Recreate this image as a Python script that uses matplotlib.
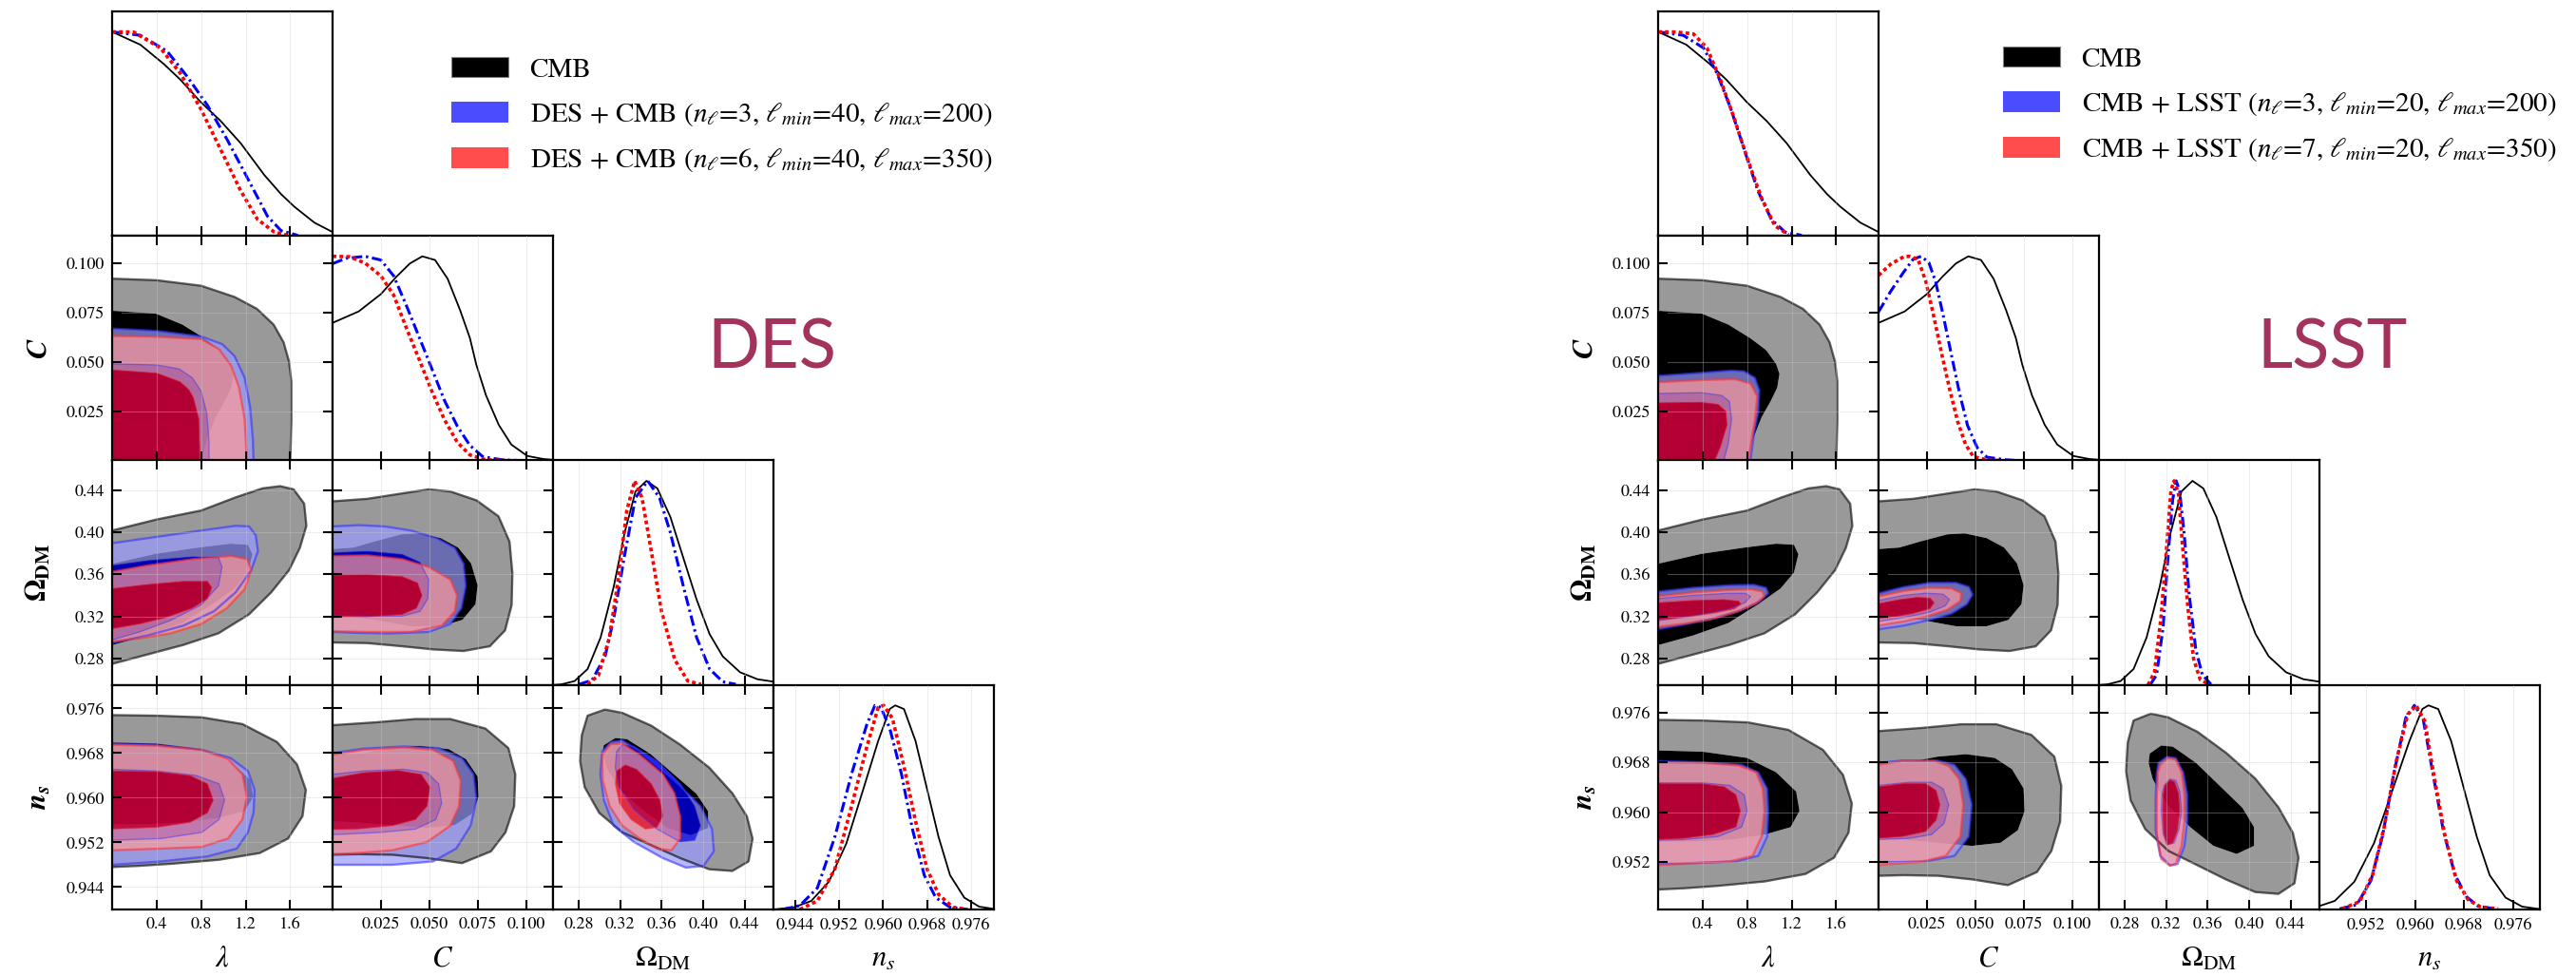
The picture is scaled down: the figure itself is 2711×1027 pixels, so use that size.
import numpy as np
import matplotlib.pyplot as plt
from matplotlib.path import Path
from matplotlib.patches import PathPatch, Polygon, Patch

plt.rcParams['font.family'] = ['STIXGeneral', 'DejaVu Sans']
plt.rcParams['mathtext.fontset'] = 'stix'

# ---------------- axis ranges / ticks ----------------
LAM_LIM = (0.0, 1.98)
C_LIM = (0.0, 0.114)
OM_LIM = (0.255, 0.468)
NS_LIM_DES = (0.9400, 0.9802)
NS_LIM_LSST = (0.9444, 0.9804)

LAM_TICKS = [0.4, 0.8, 1.2, 1.6]
LAM_LABELS = ['0.4', '0.8', '1.2', '1.6']
C_TICKS = [0.025, 0.050, 0.075, 0.100]
C_LABELS = ['0.025', '0.050', '0.075', '0.100']
OM_TICKS = [0.28, 0.32, 0.36, 0.40, 0.44]
OM_LABELS = ['0.28', '0.32', '0.36', '0.40', '0.44']
NS_TICKS_DES = [0.944, 0.952, 0.960, 0.968, 0.976]
NS_LABELS_DES = ['0.944', '0.952', '0.960', '0.968', '0.976']
NS_TICKS_LSST = [0.952, 0.960, 0.968, 0.976]
NS_LABELS_LSST = ['0.952', '0.960', '0.968', '0.976']

# ---------------- 1D marginals ----------------
CMB_LAM_X = [0, 0.253, 0.463, 0.614, 0.794, 0.975, 1.155, 1.366, 1.517, 1.637, 1.817, 1.98]
CMB_LAM_P = [1.0, 0.937, 0.843, 0.765, 0.657, 0.563, 0.454, 0.299, 0.205, 0.143, 0.065, 0.019]
CMB_C_X = [0, 0.0135, 0.025, 0.033, 0.040, 0.0464, 0.053, 0.0595, 0.066, 0.071, 0.0743, 0.0793, 0.0859, 0.0924, 0.1007, 0.109, 0.114]
CMB_C_P = [0.674, 0.73, 0.815, 0.90, 0.965, 1.0, 0.982, 0.89, 0.735, 0.60, 0.47, 0.32, 0.175, 0.078, 0.022, 0.007, 0.003]
CMB_OM_X = [0.2556, 0.2632, 0.2758, 0.2884, 0.301, 0.3137, 0.3242, 0.3347, 0.3453, 0.3558, 0.3684, 0.381, 0.3937, 0.4063, 0.419, 0.4358, 0.4526, 0.468]
CMB_OM_P = [0.0, 0.003, 0.019, 0.078, 0.233, 0.482, 0.746, 0.948, 1.0, 0.963, 0.823, 0.621, 0.419, 0.249, 0.14, 0.062, 0.028, 0.016]
CMB_NS_X = [0.9401, 0.9438, 0.9469, 0.9501, 0.9533, 0.9564, 0.9591, 0.9612, 0.9622, 0.9638, 0.9659, 0.968, 0.9701, 0.9722, 0.9748, 0.9775, 0.9801]
CMB_NS_P = [0.0, 0.011, 0.042, 0.136, 0.324, 0.591, 0.826, 0.982, 1.0, 0.982, 0.826, 0.591, 0.356, 0.168, 0.058, 0.014, 0.003]

DESB_LAM_X = [0, 0.253, 0.494, 0.674, 0.855, 1.035, 1.216, 1.396, 1.517, 1.667]
DESB_LAM_P = [1.0, 0.983, 0.905, 0.781, 0.641, 0.47, 0.283, 0.096, 0.026, 0.003]
DESR_LAM_X = [0, 0.193, 0.433, 0.614, 0.794, 0.975, 1.155, 1.306, 1.456, 1.577]
DESR_LAM_P = [1.0, 0.999, 0.921, 0.796, 0.625, 0.423, 0.221, 0.081, 0.019, 0.003]
DESB_C_X = [0, 0.0069, 0.0168, 0.025, 0.0316, 0.038, 0.0447, 0.0513, 0.0579, 0.0645, 0.071, 0.0776, 0.0875, 0.096]
DESB_C_P = [0.964, 0.99, 1.0, 0.982, 0.904, 0.763, 0.606, 0.45, 0.293, 0.168, 0.074, 0.019, 0.003, 0.0]
DESR_C_X = [0, 0.0086, 0.0168, 0.025, 0.0316, 0.038, 0.0447, 0.0513, 0.0579, 0.0645, 0.071, 0.0793, 0.09]
DESR_C_P = [1.0, 0.998, 0.967, 0.904, 0.81, 0.653, 0.497, 0.34, 0.199, 0.089, 0.027, 0.003, 0.0]
DESB_OM_X = [0.28, 0.2926, 0.3053, 0.3137, 0.3242, 0.3347, 0.3465, 0.3579, 0.3684, 0.381, 0.3937, 0.4063, 0.419, 0.4316]
DESB_OM_P = [0.003, 0.023, 0.14, 0.326, 0.637, 0.917, 1.0, 0.917, 0.746, 0.482, 0.233, 0.078, 0.016, 0.003]
DESR_OM_X = [0.2884, 0.2989, 0.3095, 0.3179, 0.3263, 0.3339, 0.341, 0.3495, 0.36, 0.3726, 0.3853, 0.3979]
DESR_OM_P = [0.003, 0.047, 0.233, 0.513, 0.855, 1.0, 0.917, 0.668, 0.357, 0.124, 0.019, 0.003]
DESB_NS_X = [0.9417, 0.9448, 0.948, 0.9512, 0.9543, 0.957, 0.9585, 0.9596, 0.9612, 0.9633, 0.9654, 0.9675, 0.9696, 0.9722, 0.9754]
DESB_NS_P = [0.0, 0.019, 0.105, 0.356, 0.669, 0.904, 1.0, 0.99, 0.888, 0.669, 0.387, 0.168, 0.058, 0.011, 0.0]
DESR_NS_X = [0.9448, 0.948, 0.9512, 0.9543, 0.957, 0.9591, 0.9601, 0.9617, 0.9638, 0.9659, 0.968, 0.9701, 0.9727, 0.9754]
DESR_NS_P = [0.0, 0.042, 0.199, 0.512, 0.794, 0.99, 1.0, 0.936, 0.7, 0.434, 0.199, 0.074, 0.011, 0.0]

LSSTB_LAM_X = [0, 0.225, 0.408, 0.53, 0.652, 0.774, 0.896, 1.017, 1.14, 1.29]
LSSTB_LAM_P = [1.0, 0.983, 0.921, 0.796, 0.625, 0.423, 0.221, 0.081, 0.019, 0.003]
LSSTR_LAM_X = [0, 0.164, 0.317, 0.439, 0.56, 0.682, 0.804, 0.926, 1.048, 1.17]
LSSTR_LAM_P = [1.0, 0.999, 0.99, 0.921, 0.765, 0.579, 0.376, 0.19, 0.05, 0.006]
LSSTB_C_X = [0, 0.0063, 0.013, 0.0179, 0.022, 0.026, 0.0295, 0.0336, 0.0377, 0.0419, 0.046, 0.051, 0.056, 0.066, 0.071]
LSSTB_C_P = [0.728, 0.829, 0.923, 0.986, 1.0, 0.97, 0.876, 0.704, 0.516, 0.329, 0.172, 0.063, 0.016, 0.003, 0.0]
LSSTR_C_X = [0, 0.0063, 0.013, 0.016, 0.0204, 0.0245, 0.0286, 0.0328, 0.0369, 0.041, 0.045, 0.049, 0.056, 0.062]
LSSTR_C_P = [0.907, 0.962, 0.998, 1.0, 0.986, 0.876, 0.704, 0.516, 0.344, 0.188, 0.078, 0.019, 0.003, 0.0]
LSSTB_OM_X = [0.3044, 0.3107, 0.317, 0.3212, 0.3262, 0.3296, 0.3329, 0.3371, 0.3422, 0.3485, 0.3548, 0.3632]
LSSTB_OM_P = [0.0, 0.05, 0.284, 0.596, 0.908, 1.0, 0.95, 0.752, 0.44, 0.175, 0.05, 0.003]
LSSTR_OM_X = [0.3023, 0.3086, 0.3149, 0.3203, 0.3245, 0.3275, 0.3317, 0.3359, 0.3413, 0.3464, 0.3527, 0.3611]
LSSTR_OM_P = [0.0, 0.062, 0.33, 0.671, 0.952, 1.0, 0.94, 0.671, 0.36, 0.128, 0.027, 0.003]
LSSTB_NS_X = [0.9477, 0.9505, 0.9528, 0.9547, 0.9566, 0.9585, 0.9599, 0.9613, 0.9627, 0.9646, 0.9665, 0.9684, 0.9703, 0.9731]
LSSTB_NS_P = [0.003, 0.023, 0.141, 0.36, 0.673, 0.939, 1.0, 0.939, 0.704, 0.391, 0.172, 0.063, 0.016, 0.003]
LSSTR_NS_X = [0.9481, 0.951, 0.9531, 0.955, 0.9569, 0.9588, 0.9602, 0.9616, 0.963, 0.9649, 0.9668, 0.9687, 0.9707, 0.9736]
LSSTR_NS_P = [0.003, 0.039, 0.172, 0.407, 0.72, 0.955, 1.0, 0.923, 0.673, 0.36, 0.141, 0.047, 0.013, 0.003]

# ---------------- 2D contours (95% outer, 68% inner) ----------------
# CMB (same in both triangles)
CMB_LAM_C_95 = [(-0.1, 0.0925), (0, 0.0923), (0.4, 0.0915), (0.8, 0.0887), (1.1, 0.083), (1.3, 0.077), (1.45, 0.069),
                (1.54, 0.06), (1.59, 0.05), (1.61, 0.04), (1.61, 0.02), (1.60, 0.0), (1.60, -0.01), (-0.1, -0.01)]
CMB_LAM_C_68 = [(-0.1, 0.076), (0, 0.076), (0.39, 0.0746), (0.63, 0.069), (0.83, 0.062), (0.97, 0.056), (1.06, 0.049),
                (1.09, 0.044), (1.07, 0.037), (1.01, 0.03), (0.93, 0.022), (0.86, 0.012), (0.80, 0.0), (0.79, -0.01), (-0.1, -0.01)]
CMB_LAM_OM_95 = [(-0.1, 0.3985), (0, 0.4015), (0.4, 0.412), (0.8, 0.4205), (1.11, 0.433), (1.35, 0.4415), (1.51, 0.4436),
                 (1.63, 0.4406), (1.725, 0.427), (1.745, 0.406), (1.686, 0.385), (1.59, 0.364), (1.43, 0.343), (1.23, 0.322),
                 (0.955, 0.304), (0.64, 0.293), (0.32, 0.284), (0, 0.275), (-0.1, 0.272)]
CMB_LAM_OM_68 = [(-0.1, 0.367), (0, 0.37), (0.39, 0.3794), (0.78, 0.3854), (1.06, 0.389), (1.22, 0.388), (1.26, 0.379),
                 (1.22, 0.3615), (1.1, 0.3466), (0.9, 0.3316), (0.63, 0.3137), (0.31, 0.3018), (0, 0.2928), (-0.1, 0.29)]
CMB_C_OM_95 = [(-0.01, 0.429), (0, 0.4292), (0.018, 0.4316), (0.036, 0.4367), (0.0497, 0.4406), (0.061, 0.4385),
               (0.0745, 0.4301), (0.0858, 0.415), (0.0915, 0.391), (0.093, 0.3609), (0.0926, 0.3308), (0.0892, 0.3068),
               (0.0813, 0.2917), (0.0677, 0.2872), (0.052, 0.2887), (0.036, 0.2917), (0.018, 0.2947), (0, 0.2953), (-0.01, 0.2953)]
CMB_C_OM_68 = [(-0.01, 0.3835), (0, 0.3839), (0.0108, 0.3854), (0.022, 0.3913), (0.0356, 0.3979), (0.0446, 0.3988),
               (0.0559, 0.3943), (0.0649, 0.3854), (0.0716, 0.3704), (0.075, 0.3496), (0.0739, 0.3316), (0.0671, 0.3167),
               (0.0559, 0.3107), (0.0401, 0.3107), (0.022, 0.3167), (0.0086, 0.3197), (0, 0.3203), (-0.01, 0.3205)]
CMB_LAM_NS_95 = [(-0.1, 0.9748), (0, 0.9748), (0.4, 0.9747), (0.805, 0.9744), (1.17, 0.9732), (1.48, 0.970), (1.66, 0.966),
                 (1.74, 0.9614), (1.71, 0.9567), (1.58, 0.9527), (1.325, 0.9501), (0.96, 0.9489), (0.545, 0.9482),
                 (0.234, 0.9478), (0, 0.9476), (-0.1, 0.9476)]
CMB_LAM_NS_68 = [(-0.1, 0.9699), (0, 0.9699), (0.4, 0.9697), (0.8, 0.9687), (1.06, 0.9664), (1.24, 0.9633), (1.27, 0.9602),
                 (1.19, 0.9576), (0.955, 0.9564), (0.645, 0.9556), (0.335, 0.9553), (0, 0.9553), (-0.1, 0.9553)]
CMB_C_NS_95 = [(-0.01, 0.973), (0, 0.973), (0.0219, 0.9735), (0.0429, 0.9741), (0.0609, 0.9741), (0.079, 0.9724),
               (0.0909, 0.9689), (0.0945, 0.9642), (0.0939, 0.9585), (0.0894, 0.9538), (0.0819, 0.9504), (0.0669, 0.9483),
               (0.0489, 0.9492), (0.0309, 0.9498), (0.0129, 0.9499), (0, 0.9498), (-0.01, 0.9498)]
CMB_C_NS_68 = [(-0.01, 0.9676), (0, 0.9676), (0.0155, 0.968), (0.0304, 0.9689), (0.0452, 0.9693), (0.0601, 0.9687),
               (0.069, 0.9669), (0.075, 0.9638), (0.0756, 0.9602), (0.072, 0.9571), (0.0631, 0.9551), (0.0482, 0.9546),
               (0.0304, 0.9551), (0.0125, 0.9556), (0, 0.9558), (-0.01, 0.9558)]
CMB_OM_NS_95 = [(0.2828, 0.9712), (0.2884, 0.9747), (0.3052, 0.9758), (0.322, 0.9752), (0.35, 0.9729), (0.3779, 0.9695),
                (0.4059, 0.9654), (0.4283, 0.9608), (0.4423, 0.9567), (0.4478, 0.9527), (0.4439, 0.9486), (0.4283, 0.9469),
                (0.4059, 0.9472), (0.3779, 0.9492), (0.35, 0.9515), (0.322, 0.9538), (0.2996, 0.9573), (0.2856, 0.9619),
                (0.2811, 0.9666)]
CMB_OM_NS_68 = [(0.304, 0.9694), (0.3152, 0.9707), (0.3264, 0.9705), (0.3488, 0.9679), (0.3712, 0.9643), (0.3936, 0.9607),
                (0.4048, 0.9576), (0.4048, 0.9546), (0.388, 0.9533), (0.3656, 0.9546), (0.3432, 0.9576), (0.3208, 0.9612),
                (0.3069, 0.9653), (0.3029, 0.9679)]

# DES + CMB, n_l=3 (blue)
DESB_LAM_C_95 = [(-0.1, 0.067), (0, 0.067), (0.4, 0.0658), (0.8, 0.063), (0.99, 0.059), (1.1, 0.053), (1.19, 0.042),
                 (1.24, 0.027), (1.265, 0.01), (1.27, 0.0), (1.27, -0.01), (-0.1, -0.01)]
DESB_LAM_C_68 = [(-0.1, 0.049), (0, 0.049), (0.4, 0.0485), (0.6, 0.0465), (0.72, 0.042), (0.8, 0.035), (0.85, 0.024),
                 (0.87, 0.01), (0.87, 0.0), (0.87, -0.01), (-0.1, -0.01)]
DESB_LAM_OM_95 = [(-0.1, 0.3875), (0, 0.3895), (0.4, 0.3955), (0.8, 0.4015), (1.11, 0.406), (1.23, 0.4054), (1.29, 0.397),
                  (1.31, 0.382), (1.25, 0.364), (1.11, 0.343), (0.916, 0.325), (0.64, 0.3113), (0.32, 0.302), (0, 0.2947),
                  (-0.1, 0.292)]
DESB_LAM_OM_68 = [(-0.1, 0.3665), (0, 0.3684), (0.32, 0.373), (0.72, 0.3766), (0.955, 0.376), (0.987, 0.367), (0.955, 0.349),
                  (0.8, 0.331), (0.52, 0.316), (0.245, 0.3053), (0, 0.2977), (-0.1, 0.295)]
DESB_C_OM_95 = [(-0.01, 0.4054), (0, 0.4054), (0.0135, 0.4066), (0.027, 0.4054), (0.0406, 0.4015), (0.0542, 0.394),
                (0.0632, 0.385), (0.0677, 0.37), (0.0689, 0.3489), (0.0666, 0.3278), (0.061, 0.3128), (0.0497, 0.3053),
                (0.0294, 0.3038), (0.0135, 0.3044), (0, 0.3053), (-0.01, 0.3053)]
DESB_C_OM_68 = [(-0.01, 0.3804), (0, 0.3804), (0.018, 0.3819), (0.036, 0.3789), (0.0452, 0.3714), (0.0497, 0.3549),
                (0.0492, 0.3368), (0.0452, 0.3248), (0.036, 0.3203), (0.018, 0.3203), (0, 0.3212), (-0.01, 0.3212)]
DESB_LAM_NS_95 = [(-0.1, 0.9697), (0, 0.9697), (0.4, 0.9695), (0.805, 0.9686), (1.065, 0.9671), (1.22, 0.9648), (1.28, 0.9614),
                  (1.27, 0.9573), (1.22, 0.9538), (1.12, 0.9509), (0.857, 0.9495), (0.44, 0.9486), (0, 0.948), (-0.1, 0.948)]
DESB_LAM_NS_68 = [(-0.1, 0.9651), (0, 0.9651), (0.4, 0.9648), (0.753, 0.964), (0.96, 0.9625), (1.01, 0.9596), (0.96, 0.9561),
                  (0.805, 0.9538), (0.44, 0.9527), (0, 0.9524), (-0.1, 0.9524)]
DESB_C_NS_95 = [(-0.01, 0.968), (0, 0.968), (0.0159, 0.9688), (0.0369, 0.9692), (0.0549, 0.9689), (0.0669, 0.9671),
                (0.0729, 0.9642), (0.0744, 0.9596), (0.0714, 0.955), (0.0639, 0.9509), (0.0519, 0.9486), (0.0309, 0.948),
                (0.0129, 0.948), (0, 0.948), (-0.01, 0.948)]
DESB_C_NS_68 = [(-0.01, 0.9642), (0, 0.9642), (0.0159, 0.9648), (0.0369, 0.9651), (0.0489, 0.9645), (0.0549, 0.9625),
                (0.0564, 0.959), (0.0534, 0.9561), (0.0429, 0.9544), (0.0249, 0.9538), (0.0069, 0.9535), (0, 0.9534), (-0.01, 0.9534)]
DESB_OM_NS_95 = [(0.3024, 0.9683), (0.3108, 0.970), (0.322, 0.9703), (0.3388, 0.9683), (0.3723, 0.9631), (0.3975, 0.9585),
                 (0.4087, 0.9544), (0.4104, 0.9504), (0.4003, 0.9478), (0.3835, 0.9475), (0.3611, 0.9492), (0.3331, 0.9521),
                 (0.3136, 0.955), (0.3041, 0.9596), (0.3007, 0.9642)]
DESB_OM_NS_68 = [(0.3164, 0.9683), (0.322, 0.9695), (0.3332, 0.9692), (0.3555, 0.9666), (0.3779, 0.9625), (0.3919, 0.9585),
                 (0.3975, 0.955), (0.3919, 0.9524), (0.3779, 0.9521), (0.3555, 0.9544), (0.3332, 0.9579), (0.3192, 0.9619),
                 (0.3152, 0.9654)]

# DES + CMB, n_l=6 (red)
DESR_LAM_C_95 = [(-0.1, 0.0632), (0, 0.0632), (0.4, 0.0628), (0.8, 0.0616), (0.96, 0.0565), (1.07, 0.048), (1.14, 0.037),
                 (1.19, 0.021), (1.21, 0.0), (1.21, -0.01), (-0.1, -0.01)]
DESR_LAM_C_68 = [(-0.1, 0.046), (0, 0.046), (0.4, 0.0444), (0.61, 0.040), (0.69, 0.036), (0.73, 0.032), (0.78, 0.021),
                 (0.79, 0.0), (0.79, -0.01), (-0.1, -0.01)]
DESR_LAM_OM_95 = [(-0.1, 0.360), (0, 0.3624), (0.32, 0.3684), (0.72, 0.3744), (1.07, 0.3774), (1.21, 0.3744), (1.25, 0.364),
                  (1.19, 0.3458), (1.03, 0.3278), (0.8, 0.3128), (0.52, 0.3038), (0.245, 0.2993), (0, 0.2962), (-0.1, 0.295)]
DESR_LAM_OM_68 = [(-0.1, 0.345), (0, 0.3465), (0.32, 0.3504), (0.64, 0.3534), (0.857, 0.3534), (0.896, 0.3474), (0.857, 0.3368),
                  (0.72, 0.3278), (0.48, 0.3188), (0.245, 0.3128), (0, 0.3083), (-0.1, 0.307)]
DESR_C_OM_95 = [(-0.01, 0.3774), (0, 0.3774), (0.018, 0.378), (0.036, 0.3744), (0.0497, 0.3669), (0.061, 0.3549),
                (0.0644, 0.3398), (0.0632, 0.3248), (0.0565, 0.3113), (0.0406, 0.3053), (0.018, 0.3053), (0, 0.3059), (-0.01, 0.3059)]
DESR_C_OM_68 = [(-0.01, 0.3594), (0, 0.3594), (0.018, 0.360), (0.036, 0.3579), (0.044, 0.3519), (0.0463, 0.3398),
                (0.0434, 0.3278), (0.036, 0.3218), (0.018, 0.3194), (0, 0.3194), (-0.01, 0.3194)]
DESR_LAM_NS_95 = [(-0.1, 0.9695), (0, 0.9695), (0.4, 0.9693), (0.805, 0.9686), (1.04, 0.9669), (1.17, 0.9642), (1.21, 0.9602),
                  (1.17, 0.9561), (1.04, 0.9527), (0.805, 0.9512), (0.44, 0.9509), (0, 0.9506), (-0.1, 0.9506)]
DESR_LAM_NS_68 = [(-0.1, 0.9648), (0, 0.9648), (0.4, 0.9647), (0.7, 0.964), (0.857, 0.9625), (0.909, 0.9596), (0.857, 0.9573),
                  (0.7, 0.9556), (0.4, 0.9547), (0, 0.9544), (-0.1, 0.9544)]
DESR_C_NS_95 = [(-0.01, 0.9677), (0, 0.9677), (0.0159, 0.9686), (0.0369, 0.969), (0.0519, 0.9686), (0.0624, 0.9666),
                (0.0663, 0.9631), (0.0654, 0.9585), (0.0609, 0.955), (0.0489, 0.9521), (0.0309, 0.9506), (0.0129, 0.9501),
                (0, 0.9499), (-0.01, 0.9499)]
DESR_C_NS_68 = [(-0.01, 0.9635), (0, 0.9635), (0.0159, 0.9645), (0.0339, 0.9649), (0.0459, 0.9642), (0.0504, 0.9619),
                (0.0489, 0.9585), (0.0429, 0.9561), (0.0309, 0.955), (0.0129, 0.9544), (0, 0.9543), (-0.01, 0.9543)]
DESR_OM_NS_95 = [(0.3024, 0.9677), (0.3108, 0.9696), (0.322, 0.9697), (0.3388, 0.9677), (0.3611, 0.9642), (0.3723, 0.9608),
                 (0.3779, 0.9567), (0.3779, 0.9527), (0.3695, 0.9506), (0.3555, 0.9509), (0.3388, 0.9527), (0.322, 0.955),
                 (0.3097, 0.9585), (0.303, 0.9631)]
DESR_OM_NS_68 = [(0.3164, 0.9648), (0.3248, 0.9659), (0.3359, 0.9651), (0.35, 0.9625), (0.3583, 0.9596), (0.3611, 0.9567),
                 (0.3555, 0.9547), (0.3443, 0.9544), (0.3304, 0.9561), (0.3192, 0.959), (0.3152, 0.9625)]

# CMB + LSST, n_l=3 (blue)
LSSTB_LAM_C_95 = [(-0.1, 0.043), (0, 0.043), (0.386, 0.0445), (0.66, 0.0457), (0.77, 0.0453), (0.87, 0.042), (0.91, 0.0357),
                  (0.90, 0.0244), (0.86, 0.013), (0.83, 0.0), (0.83, -0.01), (-0.1, -0.01)]
LSSTB_LAM_C_68 = [(-0.1, 0.034), (0, 0.034), (0.386, 0.0344), (0.57, 0.033), (0.64, 0.030), (0.66, 0.021), (0.63, 0.0084),
                  (0.59, 0.0), (0.59, -0.01), (-0.1, -0.01)]
LSSTB_LAM_OM_95 = [(-0.1, 0.342), (0, 0.3436), (0.31, 0.3472), (0.63, 0.3496), (0.86, 0.3501), (0.97, 0.3472), (0.99, 0.342),
                   (0.92, 0.3346), (0.745, 0.3257), (0.51, 0.3182), (0.235, 0.3122), (0, 0.3078), (-0.1, 0.306)]
LSSTB_LAM_OM_68 = [(-0.1, 0.3355), (0, 0.337), (0.31, 0.340), (0.63, 0.342), (0.78, 0.342), (0.83, 0.339), (0.78, 0.333),
                   (0.63, 0.327), (0.39, 0.322), (0.157, 0.3182), (0, 0.316), (-0.1, 0.315)]
LSSTB_C_OM_95 = [(-0.01, 0.340), (0, 0.342), (0.013, 0.348), (0.0266, 0.352), (0.040, 0.352), (0.0468, 0.348), (0.0486, 0.3406),
                 (0.0457, 0.3316), (0.0378, 0.3227), (0.0266, 0.3167), (0.013, 0.3113), (0, 0.3078), (-0.01, 0.306)]
LSSTB_C_OM_68 = [(-0.01, 0.333), (0, 0.3352), (0.013, 0.340), (0.0243, 0.3421), (0.0333, 0.3412), (0.0367, 0.3361),
                 (0.0345, 0.3301), (0.0266, 0.3242), (0.0153, 0.3197), (0, 0.3152), (-0.01, 0.313)]
LSSTB_LAM_NS_95 = [(-0.1, 0.9682), (0, 0.9682), (0.4, 0.968), (0.75, 0.9676), (0.9, 0.9664), (0.98, 0.9638), (0.99, 0.9602),
                   (0.98, 0.9561), (0.9, 0.953), (0.7, 0.9521), (0.4, 0.9519), (0, 0.9517), (-0.1, 0.9517)]
LSSTB_LAM_NS_68 = [(-0.1, 0.9647), (0, 0.9647), (0.4, 0.9647), (0.645, 0.9643), (0.774, 0.9628), (0.8, 0.9602), (0.75, 0.9576),
                   (0.54, 0.9561), (0.23, 0.9556), (0, 0.9555), (-0.1, 0.9555)]
LSSTB_C_NS_95 = [(-0.01, 0.9679), (0, 0.9679), (0.0125, 0.9683), (0.0304, 0.9683), (0.0393, 0.9676), (0.0452, 0.9653),
                 (0.0482, 0.9612), (0.0467, 0.9561), (0.0393, 0.953), (0.0244, 0.9521), (0.0095, 0.952), (0, 0.952), (-0.01, 0.952)]
LSSTB_C_NS_68 = [(-0.01, 0.9643), (0, 0.9643), (0.0155, 0.9648), (0.0274, 0.9648), (0.0333, 0.9638), (0.0363, 0.9612),
                 (0.0339, 0.9582), (0.0274, 0.9564), (0.0155, 0.9558), (0, 0.9556), (-0.01, 0.9556)]
LSSTB_OM_NS_95 = [(0.3124, 0.9679), (0.3208, 0.9689), (0.3292, 0.9687), (0.3365, 0.9664), (0.3404, 0.9628), (0.3404, 0.9587),
                  (0.3376, 0.9546), (0.3309, 0.9517), (0.3236, 0.9515), (0.3141, 0.953), (0.3097, 0.9571), (0.3097, 0.9623),
                  (0.3108, 0.9664)]
LSSTB_OM_NS_68 = [(0.318, 0.9643), (0.3236, 0.9653), (0.3292, 0.9651), (0.3331, 0.9633), (0.3348, 0.9602), (0.332, 0.9571),
                  (0.3276, 0.9551), (0.3208, 0.9548), (0.3169, 0.9566), (0.3152, 0.9602), (0.3158, 0.9628)]

# CMB + LSST, n_l=7 (red)
LSSTR_LAM_C_95 = [(-0.1, 0.0397), (0, 0.0397), (0.386, 0.0408), (0.69, 0.0413), (0.83, 0.039), (0.89, 0.0325), (0.87, 0.021),
                  (0.81, 0.0), (0.81, -0.01), (-0.1, -0.01)]
LSSTR_LAM_C_68 = [(-0.1, 0.0293), (0, 0.0293), (0.386, 0.0296), (0.54, 0.0285), (0.61, 0.025), (0.62, 0.018), (0.56, 0.0068),
                  (0.51, 0.0), (0.51, -0.01), (-0.1, -0.01)]
LSSTR_LAM_OM_95 = [(-0.1, 0.3375), (0, 0.3391), (0.31, 0.3427), (0.63, 0.345), (0.84, 0.3457), (0.94, 0.3436), (0.95, 0.339),
                   (0.88, 0.3322), (0.70, 0.3242), (0.47, 0.3173), (0.235, 0.3131), (0, 0.3101), (-0.1, 0.309)]
LSSTR_LAM_OM_68 = [(-0.1, 0.332), (0, 0.3331), (0.31, 0.3352), (0.59, 0.3361), (0.725, 0.3346), (0.745, 0.3316), (0.686, 0.3272),
                   (0.51, 0.3233), (0.275, 0.3197), (0, 0.3167), (-0.1, 0.316)]
LSSTR_C_OM_95 = [(-0.01, 0.337), (0, 0.339), (0.013, 0.3442), (0.0266, 0.3472), (0.0378, 0.3466), (0.0428, 0.342),
                 (0.0423, 0.3346), (0.0356, 0.3263), (0.0243, 0.3197), (0.013, 0.3152), (0, 0.3113), (-0.01, 0.310)]
LSSTR_C_OM_68 = [(-0.01, 0.330), (0, 0.3322), (0.0108, 0.3361), (0.0198, 0.3382), (0.0266, 0.3376), (0.0288, 0.3331),
                 (0.0266, 0.3272), (0.0176, 0.3227), (0.0086, 0.3197), (0, 0.3182), (-0.01, 0.317)]
LSSTR_LAM_NS_95 = [(-0.1, 0.968), (0, 0.968), (0.4, 0.9679), (0.72, 0.9675), (0.88, 0.9664), (0.94, 0.9638), (0.955, 0.9602),
                   (0.93, 0.9561), (0.85, 0.953), (0.645, 0.9521), (0.4, 0.9519), (0, 0.9515), (-0.1, 0.9515)]
LSSTR_LAM_NS_68 = [(-0.1, 0.9646), (0, 0.9646), (0.4, 0.9646), (0.594, 0.9641), (0.7, 0.9628), (0.74, 0.9602), (0.7, 0.9576),
                   (0.49, 0.9564), (0.23, 0.9558), (0, 0.9556), (-0.1, 0.9556)]
LSSTR_C_NS_95 = [(-0.01, 0.9676), (0, 0.9676), (0.0125, 0.9682), (0.0289, 0.9682), (0.0363, 0.9674), (0.0417, 0.9653),
                 (0.0438, 0.9612), (0.0423, 0.9561), (0.0348, 0.953), (0.0214, 0.952), (0.0065, 0.9517), (0, 0.9515), (-0.01, 0.9515)]
LSSTR_C_NS_68 = [(-0.01, 0.9641), (0, 0.9641), (0.0125, 0.9646), (0.0244, 0.9646), (0.0298, 0.9635), (0.0318, 0.9612),
                 (0.0298, 0.9587), (0.0244, 0.9569), (0.0125, 0.9561), (0, 0.9558), (-0.01, 0.9558)]
LSSTR_OM_NS_95 = [(0.3141, 0.9676), (0.322, 0.9687), (0.3292, 0.9684), (0.3348, 0.9664), (0.3376, 0.9628), (0.3376, 0.9587),
                  (0.3348, 0.9546), (0.3292, 0.9517), (0.3236, 0.9514), (0.3152, 0.9525), (0.3108, 0.9566), (0.3108, 0.9623),
                  (0.3119, 0.9664)]
LSSTR_OM_NS_68 = [(0.3186, 0.9643), (0.3236, 0.9652), (0.328, 0.9649), (0.332, 0.963), (0.3331, 0.9602), (0.3309, 0.9571),
                  (0.3264, 0.955), (0.3208, 0.9547), (0.3175, 0.9564), (0.3164, 0.9602), (0.3169, 0.9628)]

LEGEND_DES = ['CMB',
              r'DES + CMB ($n_\ell$=3, $\ell_{min}$=40, $\ell_{max}$=200)',
              r'DES + CMB ($n_\ell$=6, $\ell_{min}$=40, $\ell_{max}$=350)']
LEGEND_LSST = ['CMB',
               r'CMB + LSST ($n_\ell$=3, $\ell_{min}$=20, $\ell_{max}$=200)',
               r'CMB + LSST ($n_\ell$=7, $\ell_{min}$=20, $\ell_{max}$=350)']

XLABELS = [r'$\lambda$', r'$C$', r'$\Omega_{\rm DM}$', r'$n_s$']
YLABELS = [None, r'$\mathbfit{C}$', r'$\mathbf{\Omega}_{\mathbf{DM}}$', r'$\mathbfit{n}_{\mathbfit{s}}$']

# ---------------- styles ----------------
STYLE = {
    'cmb': dict(main=(0, 0, 0), pale=(0.6, 0.6, 0.6), alpha=1.0, edge=(0, 0, 0), inner_lw=0.0),
    'blue': dict(main=(0, 0, 1), pale=(0.6, 0.6, 1.0), alpha=0.7, edge=(0.2, 0.2, 1.0), inner_lw=1.0),
    'red': dict(main=(1, 0, 0), pale=(1.0, 0.6, 0.6), alpha=0.7, edge=(1.0, 0.2, 0.2), inner_lw=1.0),
}
LINE1D = {
    'cmb': dict(color='k', lw=1.3, ls='-'),
    'blue': dict(color=(0, 0, 1), lw=2.2, dashes=(3.6, 1.3, 0.8, 1.3)),
    'red': dict(color=(1, 0, 0), lw=2.6, dashes=(1.1, 0.9)),
}

W, H = 2711, 1027
PW, PH = 232, 236.25
TOP = 12


def signed_area(p):
    x, y = p[:, 0], p[:, 1]
    return 0.5 * np.sum(x * np.roll(y, -1) - np.roll(x, -1) * y)


def ring_path(outer, inner):
    o = np.asarray(outer, float)
    i = np.asarray(inner, float)
    if signed_area(o) < 0:
        o = o[::-1]
    if signed_area(i) > 0:
        i = i[::-1]
    verts = np.concatenate([o, o[:1], i, i[:1]])
    codes = ([Path.MOVETO] + [Path.LINETO] * (len(o) - 1) + [Path.CLOSEPOLY] +
             [Path.MOVETO] + [Path.LINETO] * (len(i) - 1) + [Path.CLOSEPOLY])
    return Path(verts, codes)


def draw_2d(ax, outer, inner, key):
    s = STYLE[key]
    ax.add_patch(PathPatch(ring_path(outer, inner), facecolor=s['pale'], edgecolor='none',
                           alpha=s['alpha'], zorder=1))
    ax.add_patch(Polygon(inner, closed=True, facecolor=s['main'], edgecolor='none',
                         alpha=s['alpha'], zorder=1))
    ax.add_patch(Polygon(outer, closed=True, fill=False, edgecolor=s['edge'], lw=1.7,
                         alpha=0.6, joinstyle='round', zorder=1.1))
    if s['inner_lw'] > 0:
        ax.add_patch(Polygon(inner, closed=True, fill=False, edgecolor=s['edge'], lw=s['inner_lw'],
                             alpha=0.45, joinstyle='round', zorder=1.1))


def style_axes(ax, is1d):
    for sp in ax.spines.values():
        sp.set_linewidth(1.6)
    ax.tick_params(direction='in', length=7, width=1.5, labelsize=13, pad=6,
                   top=not is1d, right=not is1d, left=not is1d, bottom=True)
    ax.grid(True, color='0.8', alpha=0.35, lw=0.8)
    ax.set_axisbelow(False)


def triangle(x0, ns_lim, ns_ticks, ns_labels, d1, d2, legend_labels, legend_xy, tag, tag_xy):
    lims = [LAM_LIM, C_LIM, OM_LIM, ns_lim]
    ticks = [LAM_TICKS, C_TICKS, OM_TICKS, ns_ticks]
    tlabels = [LAM_LABELS, C_LABELS, OM_LABELS, ns_labels]
    for i in range(4):
        for j in range(i + 1):
            left = x0 + j * PW
            top = TOP + i * PH
            ax = plt.gcf().add_axes([left / W, 1 - (top + PH) / H, PW / W, PH / H])
            ax.set_xlim(*lims[j])
            ax.set_xticks(ticks[j])
            if i == j:
                for key in ['cmb', 'blue', 'red']:
                    xs, ps = d1[key][i]
                    st = LINE1D[key]
                    if 'dashes' in st:
                        ax.plot(xs, ps, color=st['color'], lw=st['lw'], dashes=st['dashes'])
                    else:
                        ax.plot(xs, ps, color=st['color'], lw=st['lw'], ls=st['ls'])
                ax.set_ylim(0, 1.1)
                ax.set_yticks([])
                style_axes(ax, True)
            else:
                for key in ['cmb', 'blue', 'red']:
                    outer, inner = d2[key][(i, j)]
                    draw_2d(ax, outer, inner, key)
                ax.set_ylim(*lims[i])
                ax.set_yticks(ticks[i])
                style_axes(ax, False)
            if i == 3:
                ax.set_xticklabels(tlabels[j])
                ax.set_xlabel(XLABELS[j], fontsize=22)
                ax.xaxis.set_label_coords(0.5, -0.165)
            else:
                ax.set_xticklabels([])
            if j == 0 and i > 0:
                ax.set_yticklabels(tlabels[i])
                ax.set_ylabel(YLABELS[i], fontsize=22)
                ax.yaxis.set_label_coords(-0.27, 0.5)
            elif i != j:
                ax.set_yticklabels([])
    handles = [Patch(facecolor=STYLE['cmb']['main'], edgecolor='0.5', lw=0.8),
               Patch(facecolor=STYLE['blue']['main'], alpha=0.7, edgecolor='none'),
               Patch(facecolor=STYLE['red']['main'], alpha=0.7, edgecolor='none')]
    plt.gcf().legend(handles, legend_labels, loc='upper left',
                     bbox_to_anchor=(legend_xy[0] / W, 1 - legend_xy[1] / H),
                     frameon=False, fontsize=21, handlelength=2.05, handleheight=0.75,
                     handletextpad=0.78, labelspacing=0.66, borderpad=0, borderaxespad=0)
    plt.gcf().text(tag_xy[0] / W, 1 - tag_xy[1] / H, tag, ha='center', va='center',
                   fontsize=52, family='Lato', color='#a3325c')


fig = plt.figure(figsize=(W / 100, H / 100), dpi=100)

cmb_1d = [(CMB_LAM_X, CMB_LAM_P), (CMB_C_X, CMB_C_P), (CMB_OM_X, CMB_OM_P), (CMB_NS_X, CMB_NS_P)]
cmb_2d = {(1, 0): (CMB_LAM_C_95, CMB_LAM_C_68), (2, 0): (CMB_LAM_OM_95, CMB_LAM_OM_68),
          (2, 1): (CMB_C_OM_95, CMB_C_OM_68), (3, 0): (CMB_LAM_NS_95, CMB_LAM_NS_68),
          (3, 1): (CMB_C_NS_95, CMB_C_NS_68), (3, 2): (CMB_OM_NS_95, CMB_OM_NS_68)}

des_1d = {'cmb': cmb_1d,
          'blue': [(DESB_LAM_X, DESB_LAM_P), (DESB_C_X, DESB_C_P), (DESB_OM_X, DESB_OM_P), (DESB_NS_X, DESB_NS_P)],
          'red': [(DESR_LAM_X, DESR_LAM_P), (DESR_C_X, DESR_C_P), (DESR_OM_X, DESR_OM_P), (DESR_NS_X, DESR_NS_P)]}
des_2d = {'cmb': cmb_2d,
          'blue': {(1, 0): (DESB_LAM_C_95, DESB_LAM_C_68), (2, 0): (DESB_LAM_OM_95, DESB_LAM_OM_68),
                   (2, 1): (DESB_C_OM_95, DESB_C_OM_68), (3, 0): (DESB_LAM_NS_95, DESB_LAM_NS_68),
                   (3, 1): (DESB_C_NS_95, DESB_C_NS_68), (3, 2): (DESB_OM_NS_95, DESB_OM_NS_68)},
          'red': {(1, 0): (DESR_LAM_C_95, DESR_LAM_C_68), (2, 0): (DESR_LAM_OM_95, DESR_LAM_OM_68),
                  (2, 1): (DESR_C_OM_95, DESR_C_OM_68), (3, 0): (DESR_LAM_NS_95, DESR_LAM_NS_68),
                  (3, 1): (DESR_C_NS_95, DESR_C_NS_68), (3, 2): (DESR_OM_NS_95, DESR_OM_NS_68)}}

lsst_1d = {'cmb': cmb_1d,
           'blue': [(LSSTB_LAM_X, LSSTB_LAM_P), (LSSTB_C_X, LSSTB_C_P), (LSSTB_OM_X, LSSTB_OM_P), (LSSTB_NS_X, LSSTB_NS_P)],
           'red': [(LSSTR_LAM_X, LSSTR_LAM_P), (LSSTR_C_X, LSSTR_C_P), (LSSTR_OM_X, LSSTR_OM_P), (LSSTR_NS_X, LSSTR_NS_P)]}
lsst_2d = {'cmb': cmb_2d,
           'blue': {(1, 0): (LSSTB_LAM_C_95, LSSTB_LAM_C_68), (2, 0): (LSSTB_LAM_OM_95, LSSTB_LAM_OM_68),
                    (2, 1): (LSSTB_C_OM_95, LSSTB_C_OM_68), (3, 0): (LSSTB_LAM_NS_95, LSSTB_LAM_NS_68),
                    (3, 1): (LSSTB_C_NS_95, LSSTB_C_NS_68), (3, 2): (LSSTB_OM_NS_95, LSSTB_OM_NS_68)},
           'red': {(1, 0): (LSSTR_LAM_C_95, LSSTR_LAM_C_68), (2, 0): (LSSTR_LAM_OM_95, LSSTR_LAM_OM_68),
                   (2, 1): (LSSTR_C_OM_95, LSSTR_C_OM_68), (3, 0): (LSSTR_LAM_NS_95, LSSTR_LAM_NS_68),
                   (3, 1): (LSSTR_C_NS_95, LSSTR_C_NS_68), (3, 2): (LSSTR_OM_NS_95, LSSTR_OM_NS_68)}}

triangle(118, NS_LIM_DES, NS_TICKS_DES, NS_LABELS_DES, des_1d, des_2d, LEGEND_DES, (475, 60), 'DES', (812, 367))
triangle(1745, NS_LIM_LSST, NS_TICKS_LSST, NS_LABELS_LSST, lsst_1d, lsst_2d, LEGEND_LSST, (2108, 49), 'LSST', (2455, 367))

fig.savefig('out.png', dpi=100)
